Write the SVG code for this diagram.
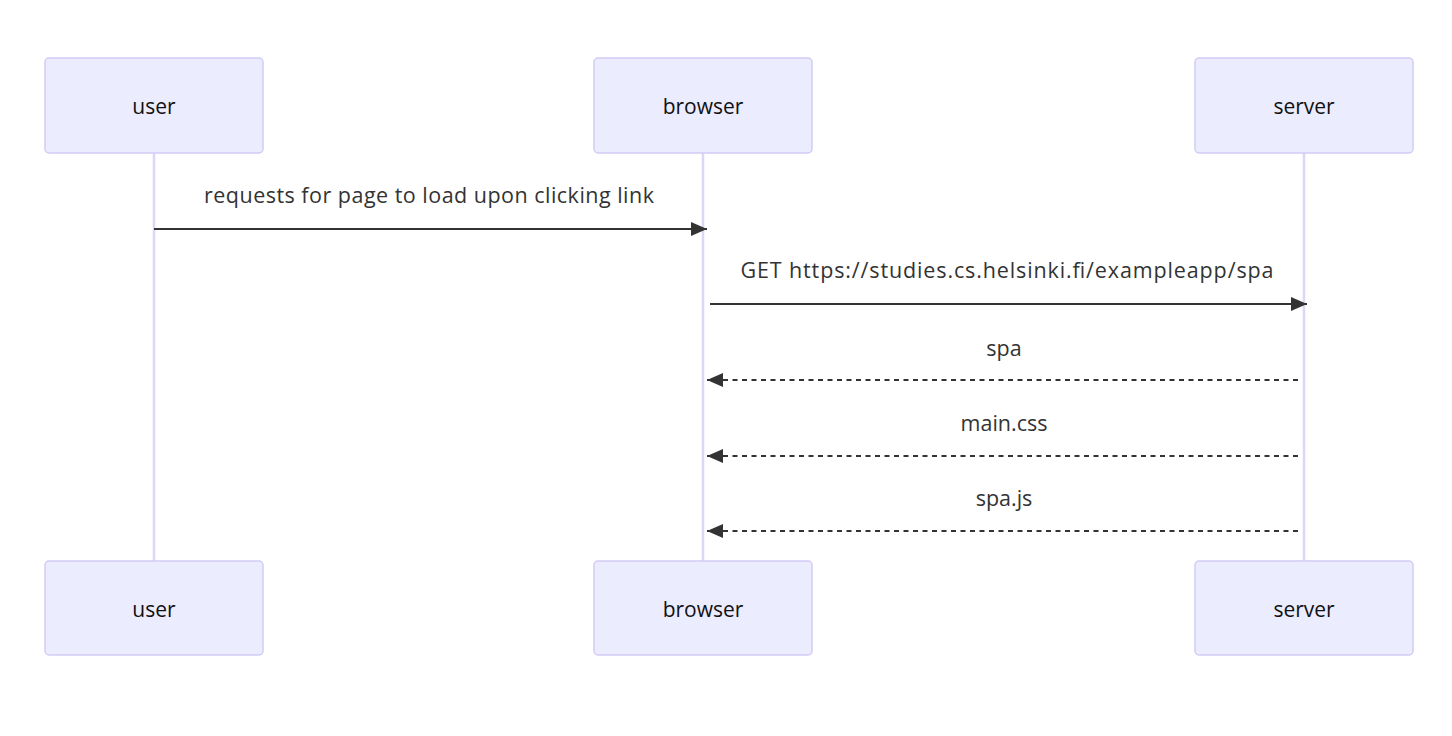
<svg xmlns="http://www.w3.org/2000/svg" width="1452" height="736" viewBox="0 0 1452 736">
<defs>
<style>
.actor{fill:#ECECFF;stroke:#d2ccf5;stroke-width:1.5}
.atext{font-family:"Open Sans","Liberation Sans",sans-serif;font-size:21px;fill:#111;text-anchor:middle;dominant-baseline:central}
.life{stroke:#dcd6f8;stroke-width:2.5}
.msg{stroke:#333;stroke-width:2;fill:none}
.dash{stroke-dasharray:5 4.5}
.mtext{font-family:"Open Sans","Liberation Sans",sans-serif;font-size:21.5px;fill:#333;text-anchor:middle}
</style>
<marker id="arrow" viewBox="0 0 16 14" refX="16" refY="7" markerWidth="16" markerHeight="14" markerUnits="userSpaceOnUse" orient="auto">
<path d="M0,0 L16,7 L0,14 z" fill="#333"/>
</marker>
</defs>
<rect width="1452" height="736" fill="#fff"/>
<g id="lifelines">
<line class="life" x1="154" y1="153" x2="154" y2="561"/>
<line class="life" x1="703" y1="153" x2="703" y2="561"/>
<line class="life" x1="1304" y1="153" x2="1304" y2="561"/>
</g>
<g id="user-top"><rect class="actor" x="45" y="58" width="218" height="95" rx="4"/><text class="atext" x="154" y="106">user</text></g>
<g id="browser-top"><rect class="actor" x="594" y="58" width="218" height="95" rx="4"/><text class="atext" x="703" y="106">browser</text></g>
<g id="server-top"><rect class="actor" x="1195" y="58" width="218" height="95" rx="4"/><text class="atext" x="1304" y="106">server</text></g>
<g id="user-bottom"><rect class="actor" x="45" y="561" width="218" height="94" rx="4"/><text class="atext" x="154" y="609">user</text></g>
<g id="browser-bottom"><rect class="actor" x="594" y="561" width="218" height="94" rx="4"/><text class="atext" x="703" y="609">browser</text></g>
<g id="server-bottom"><rect class="actor" x="1195" y="561" width="218" height="94" rx="4"/><text class="atext" x="1304" y="609">server</text></g>
<g id="connectors">
<line class="msg" x1="154" y1="229" x2="707" y2="229" marker-end="url(#arrow)"/>
<line class="msg" x1="710" y1="304" x2="1307" y2="304" marker-end="url(#arrow)"/>
<line class="msg dash" x1="1298" y1="380" x2="707" y2="380" marker-end="url(#arrow)"/>
<line class="msg dash" x1="1298" y1="456" x2="707" y2="456" marker-end="url(#arrow)"/>
<line class="msg dash" x1="1298" y1="531" x2="707" y2="531" marker-end="url(#arrow)"/>
</g>
<g id="labels">
<text class="mtext" x="429" y="203" textLength="450" lengthAdjust="spacing">requests for page to load upon clicking link</text>
<text class="mtext" x="1007" y="278" textLength="533" lengthAdjust="spacing">GET https://studies.cs.helsinki.fi/exampleapp/spa</text>
<text class="mtext" x="1004" y="356">spa</text>
<text class="mtext" x="1004" y="431">main.css</text>
<text class="mtext" x="1004" y="506">spa.js</text>
</g>
</svg>
